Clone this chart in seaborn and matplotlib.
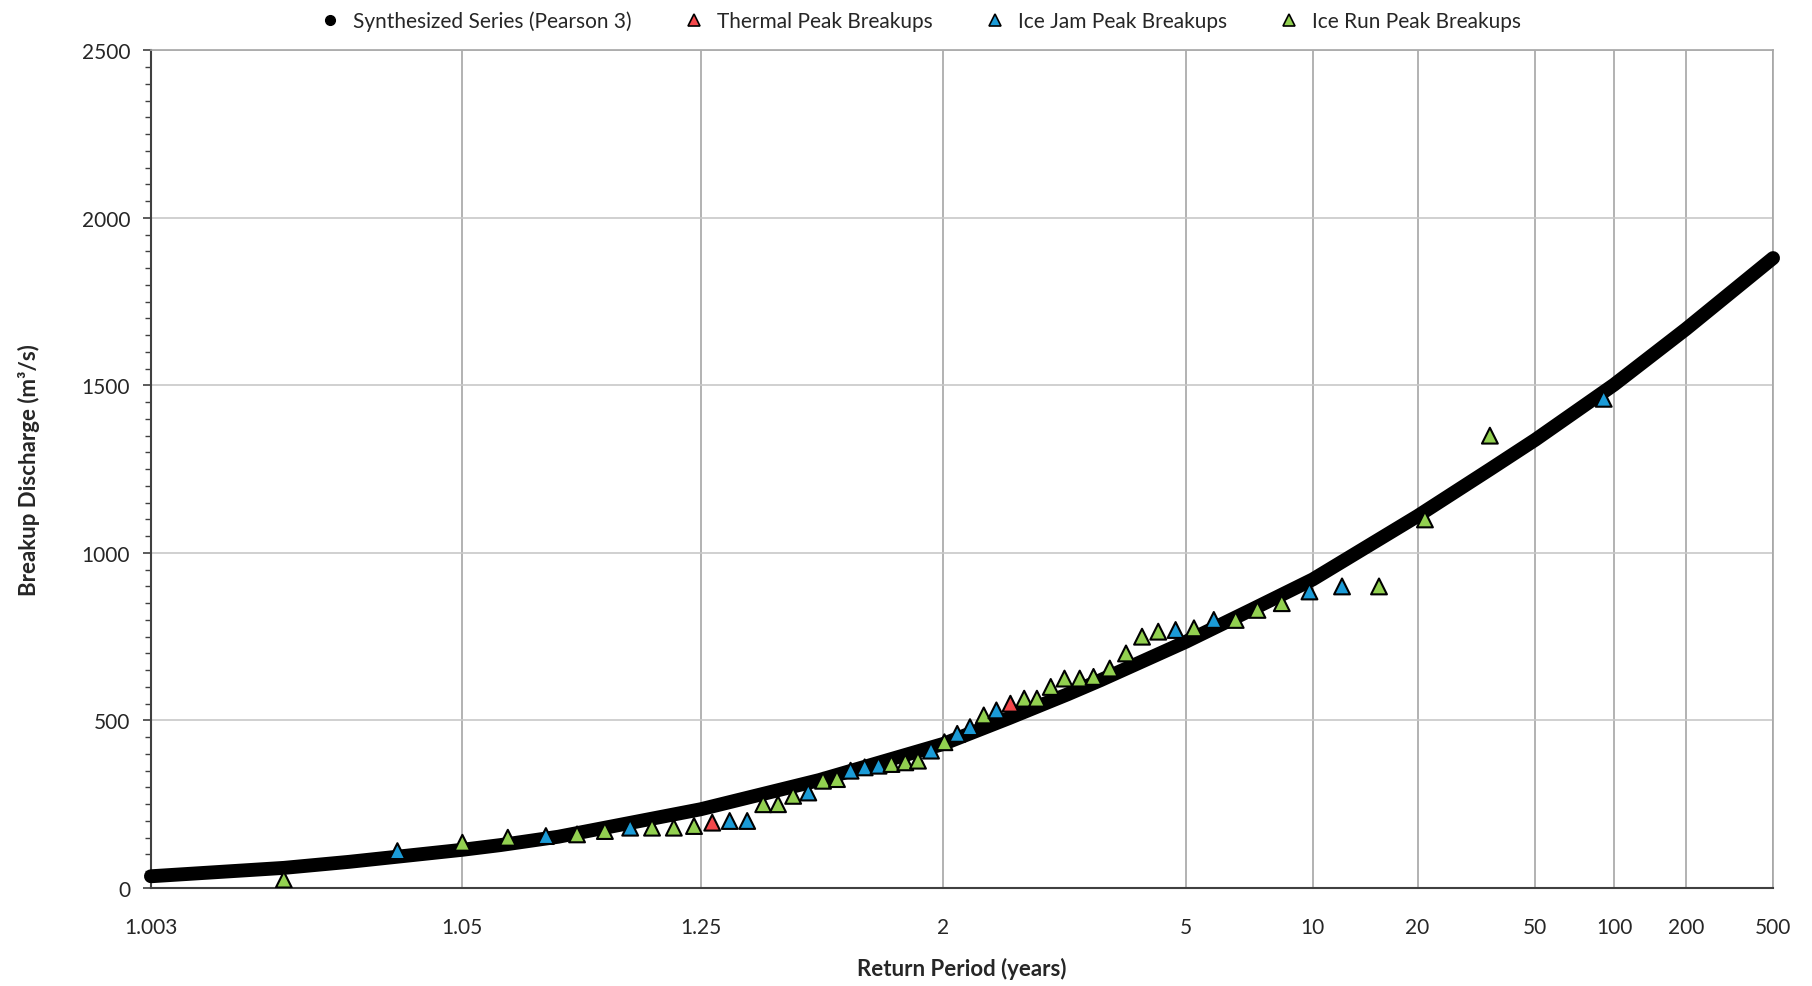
import math
from statistics import NormalDist

import numpy as np
import pandas as pd
import matplotlib
matplotlib.use("Agg")
import matplotlib.pyplot as plt
from matplotlib.lines import Line2D
from matplotlib.ticker import MultipleLocator
import seaborn as sns

# Synthesized Pearson 3 curve
curve_T = [1.003, 1.0112, 1.02, 1.05, 1.0663, 1.1, 1.25, 1.5, 2, 2.44, 3, 3.413,
           5, 7, 10, 20, 34.6, 50, 100, 200, 500]
curve_Q = [35, 60, 78, 114, 128, 153, 235, 322, 430, 507, 578, 620,
           735, 830, 921, 1110, 1250, 1338, 1502, 1668, 1880]

# Observed breakups: return period, discharge, type
obs_T = [1.0112, 1.030, 1.050, 1.070, 1.0917, 1.1135, 1.1366, 1.161, 1.185, 1.212,
         1.240, 1.268, 1.2975, 1.330, 1.3625, 1.395, 1.431, 1.470, 1.511, 1.553,
         1.597, 1.646, 1.698, 1.750, 1.810, 1.869, 1.934, 2.006, 2.080, 2.159,
         2.251, 2.342, 2.451, 2.567, 2.683, 2.819, 2.966, 3.144, 3.320, 3.548,
         3.800, 4.076, 4.386, 4.757, 5.200, 5.745, 6.440, 7.250, 8.320, 9.800,
         12.0, 15.3, 21.1, 34.5, 91.0]
obs_Q = [25, 110, 135, 150, 155, 160, 170, 180, 180, 180,
         185, 195, 200, 200, 250, 250, 275, 285, 320, 325,
         350, 360, 365, 370, 375, 380, 410, 435, 460, 480,
         515, 530, 550, 565, 565, 600, 625, 625, 630, 655,
         700, 750, 765, 770, 775, 800, 800, 830, 850, 885,
         900, 900, 1100, 1350, 1460]
obs_type = ["Run", "Jam", "Run", "Run", "Jam", "Run", "Run", "Jam", "Run", "Run",
            "Run", "Thermal", "Jam", "Jam", "Run", "Run", "Run", "Jam", "Run", "Run",
            "Jam", "Jam", "Jam", "Run", "Run", "Run", "Jam", "Run", "Jam", "Jam",
            "Run", "Jam", "Thermal", "Run", "Run", "Run", "Run", "Run", "Run", "Run",
            "Run", "Run", "Run", "Jam", "Run", "Jam", "Run", "Run", "Run", "Jam",
            "Jam", "Run", "Run", "Run", "Jam"]

x_ticks = [1.003, 1.05, 1.25, 2, 5, 10, 20, 50, 100, 200, 500]
x_tick_labels = ["1.003", "1.05", "1.25", "2", "5", "10", "20", "50", "100", "200", "500"]

colors = {"Thermal": "#F4484B", "Jam": "#1B9BD7", "Run": "#92D050"}
labels = {"Thermal": "Thermal Peak Breakups", "Jam": "Ice Jam Peak Breakups",
          "Run": "Ice Run Peak Breakups"}

nd = NormalDist()
inv_cdf = np.vectorize(nd.inv_cdf, otypes=[float])
erf = np.vectorize(math.erf, otypes=[float])


# normal probability scale on return period
def forward(T):
    T = np.asarray(T, dtype=float)
    p = 1.0 - 1.0 / np.where(T > 1.0, T, 1.0 + 1e-12)
    p = np.clip(p, 1e-12, 1 - 1e-12)
    return inv_cdf(p)


def inverse(z):
    z = np.asarray(z, dtype=float)
    cdf = 0.5 * (1.0 + erf(z / math.sqrt(2.0)))
    return 1.0 / np.clip(1.0 - cdf, 1e-12, None)


curve = pd.DataFrame({"T": curve_T, "Q": curve_Q})
obs = pd.DataFrame({"T": obs_T, "Q": obs_Q, "type": obs_type})

sns.set_style("white")
plt.rcParams["font.family"] = ["Lato", "DejaVu Sans"]

fig, ax = plt.subplots(figsize=(18.12, 9.87), dpi=100)
fig.subplots_adjust(left=0.0833, right=0.9785, top=0.948, bottom=0.0993)

ax.set_xscale("function", functions=(forward, inverse))

sns.lineplot(data=curve, x="T", y="Q", color="black", linewidth=10,
             solid_capstyle="round", solid_joinstyle="round", ax=ax, zorder=3,
             clip_on=False)

sns.scatterplot(data=obs, x="T", y="Q", hue="type", palette=colors, marker="^",
                s=130, edgecolor="black", linewidth=1.5, legend=False, ax=ax, zorder=4)

ax.set_xlim(1.003, 500)
ax.set_ylim(0, 2500)
ax.set_xticks(x_ticks)
ax.set_xticklabels(x_tick_labels)
ax.minorticks_off()
ax.yaxis.set_major_locator(MultipleLocator(500))
ax.yaxis.set_minor_locator(MultipleLocator(50))

ax.grid(axis="x", color="#a6a6a6", linewidth=1.2)
ax.grid(axis="y", color="#c8c8c8", linewidth=1.2)
ax.set_axisbelow(True)

for side in ["top", "right"]:
    ax.spines[side].set_color("#a6a6a6")
    ax.spines[side].set_linewidth(1.2)
for side in ["left", "bottom"]:
    ax.spines[side].set_color("#404040")
    ax.spines[side].set_linewidth(1.5)

ax.tick_params(axis="x", length=0, pad=21, labelsize=15)
ax.tick_params(axis="y", which="major", length=6, width=1.2, pad=9, labelsize=15,
               left=True, color="#404040")
ax.tick_params(axis="y", which="minor", length=4, width=1, left=True, color="#404040")

ax.set_xlabel("Return Period (years)", fontsize=16, fontweight="bold", labelpad=14)
ax.set_ylabel("Breakup Discharge (m³/s)", fontsize=16, fontweight="bold", labelpad=30)

handles = [Line2D([], [], marker="o", color="black", linestyle="none", markersize=7,
                  label="Synthesized Series (Pearson 3)")]
for key in ["Thermal", "Jam", "Run"]:
    handles.append(Line2D([], [], marker="^", linestyle="none", markersize=9,
                          markerfacecolor=colors[key], markeredgecolor="black",
                          markeredgewidth=1.2, label=labels[key]))

fig.legend(handles=handles, loc="upper center", bbox_to_anchor=(0.505, 1.007), ncol=4,
           frameon=False, fontsize=15, handletextpad=0.1, columnspacing=2.0)

plt.savefig("out.png", dpi=100)
